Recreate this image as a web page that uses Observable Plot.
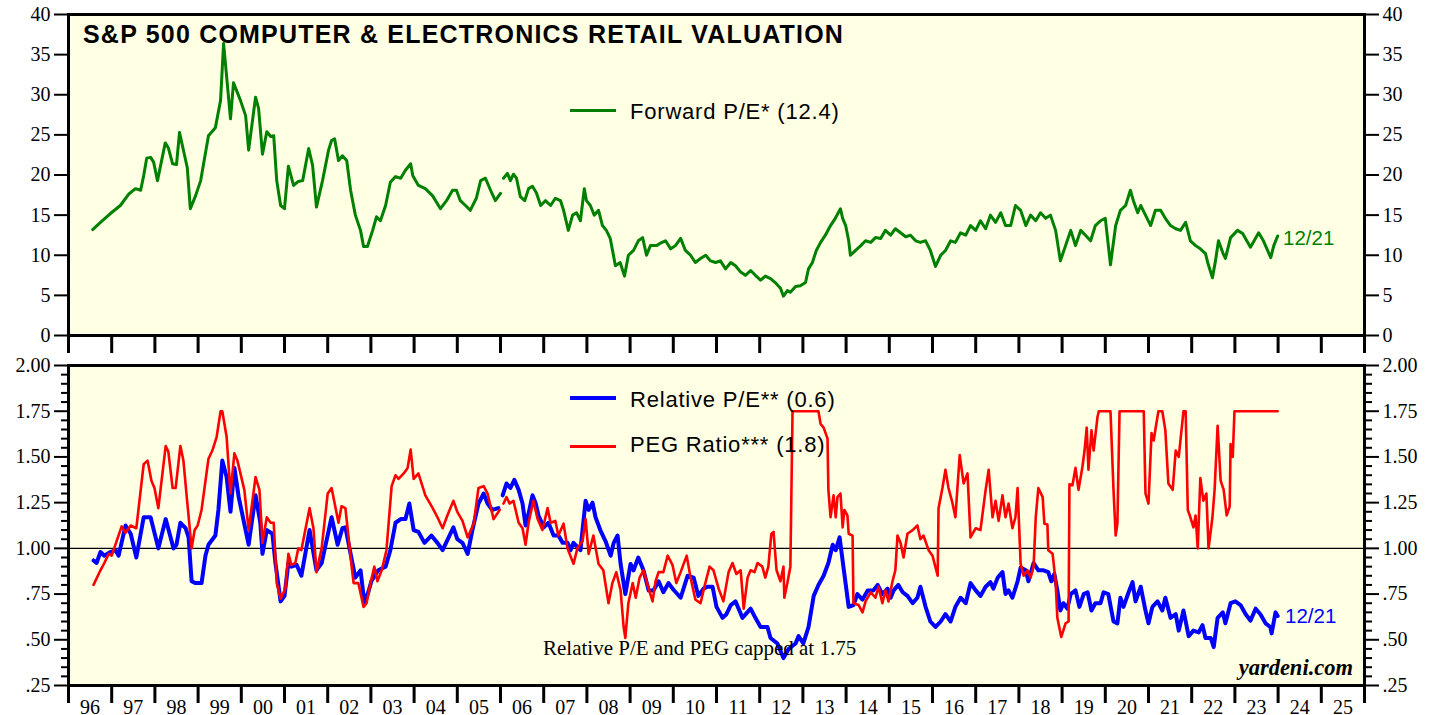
<!DOCTYPE html>
<html><head><meta charset="utf-8">
<script src="https://cdn.jsdelivr.net/npm/d3@7"></script>
<script src="https://cdn.jsdelivr.net/npm/@observablehq/plot@0.6"></script>
<style>
html,body{margin:0;padding:0;background:#fff}
body{width:1439px;height:715px;overflow:hidden;position:relative;font-family:"Liberation Sans",Arial,sans-serif}
#top,#bot{position:absolute;left:0}
#top{top:0}
#bot{top:355px}
.lbl{position:absolute;white-space:nowrap;line-height:1}
.sw{position:absolute}
</style></head><body>
<div id="top"></div><div id="bot"></div>
<script>
// ---------- data ----------
const yearTicks = d3.range(1996, 2027);
const yearLabels = ["96","97","98","99","00","01","02","03","04","05","06","07","08","09","10","11","12","13","14","15","16","17","18","19","20","21","22","23","24","25"];
const peTicks = [0,5,10,15,20,25,30,35,40];
const ratioTicks = [0.25,0.5,0.75,1,1.25,1.5,1.75,2];
const ratioLabels = [".25",".50",".75","1.00","1.25","1.50","1.75","2.00"];

// Forward P/E (null = break between old and new series)
const fwdYear = [1996.56,1996.74,1996.97,1997.20,1997.39,1997.55,1997.67,1997.74,1997.81,1997.90,1997.97,1998.06,1998.24,1998.31,1998.41,1998.50,1998.57,1998.75,1998.82,1998.94,1999.06,1999.24,1999.40,1999.52,1999.59,1999.75,1999.82,1999.98,2000.10,2000.17,2000.33,2000.40,2000.49,2000.59,2000.68,2000.75,2000.82,2000.91,2001.00,2001.09,2001.21,2001.32,2001.42,2001.56,2001.65,2001.74,2001.88,2002.02,2002.09,2002.16,2002.25,2002.34,2002.44,2002.53,2002.64,2002.76,2002.83,2002.92,2003.04,2003.13,2003.22,2003.34,2003.45,2003.57,2003.69,2003.80,2003.92,2003.97,2004.10,2004.26,2004.43,2004.61,2004.75,2004.89,2004.98,2005.07,2005.19,2005.30,2005.44,2005.54,2005.65,2005.77,2005.88,2006.00,
 null,
 2006.07,2006.16,2006.23,2006.30,2006.37,2006.46,2006.56,2006.65,2006.74,2006.83,2006.93,2007.04,2007.16,2007.27,2007.39,2007.46,2007.57,2007.67,2007.76,2007.85,2007.94,2007.99,2008.08,2008.17,2008.27,2008.36,2008.45,2008.54,2008.66,2008.77,2008.87,2008.96,2009.08,2009.19,2009.29,2009.38,2009.47,2009.61,2009.70,2009.82,2009.94,2010.05,2010.17,2010.28,2010.40,2010.51,2010.63,2010.75,2010.86,2010.98,2011.09,2011.21,2011.33,2011.44,2011.56,2011.67,2011.79,2011.90,2012.02,2012.13,2012.25,2012.36,2012.48,2012.55,2012.64,2012.71,2012.83,2012.94,2013.06,2013.13,2013.22,2013.31,2013.41,2013.52,2013.64,2013.75,2013.87,2013.92,2013.99,2014.06,2014.10,2014.22,2014.34,2014.45,2014.57,2014.68,2014.80,2014.91,2015.03,2015.14,2015.26,2015.38,2015.49,2015.61,2015.72,2015.84,2015.95,2016.07,2016.19,2016.30,2016.42,2016.53,2016.65,2016.77,2016.88,2017.00,2017.11,2017.23,2017.34,2017.46,2017.58,2017.69,2017.81,2017.92,2018.04,2018.16,2018.27,2018.39,2018.50,2018.62,2018.73,2018.85,2018.96,2019.08,2019.20,2019.31,2019.43,2019.54,2019.66,2019.77,2019.89,2020.00,2020.12,2020.24,2020.35,2020.47,2020.58,2020.65,2020.75,2020.82,2020.93,2021.05,2021.16,2021.28,2021.39,2021.51,2021.63,2021.74,2021.86,2021.97,2022.09,2022.20,2022.32,2022.37,2022.48,2022.55,2022.62,2022.72,2022.78,2022.90,2023.06,2023.18,2023.36,2023.55,2023.66,2023.83,2023.90,2023.99];
const fwdPE = [13.2,14.1,15.2,16.2,17.6,18.3,18.1,19.9,22.1,22.2,21.6,19.3,24.0,23.4,21.4,21.3,25.3,20.9,15.8,17.4,19.3,24.9,25.9,29.3,36.4,27.0,31.5,29.3,27.4,23.1,29.7,28.3,22.6,25.4,24.8,24.9,19.3,16.2,15.8,21.1,18.7,19.2,19.3,23.3,21.2,16.0,19.3,23.1,24.3,24.5,21.8,22.4,21.8,18.1,15.0,13.1,11.1,11.1,13.1,14.8,14.3,16.2,19.1,19.8,19.6,20.6,21.4,19.9,18.7,18.3,17.4,15.8,16.8,18.1,18.1,16.8,16.2,15.6,17.1,19.3,19.6,18.1,16.8,17.7,
 null,
 19.6,20.2,19.3,20.1,19.6,17.3,16.8,18.3,18.6,17.8,16.2,16.8,16.2,17.1,16.8,15.6,13.1,15.0,15.3,14.3,18.3,16.8,16.2,15.0,15.6,13.7,13.1,12.1,8.7,9.1,7.4,10.0,10.6,11.8,12.2,10.0,11.2,11.2,11.5,11.8,10.8,11.2,12.1,10.6,10.0,9.1,9.6,10.0,9.3,9.1,9.3,8.3,9.1,8.7,7.9,7.5,8.1,7.5,6.9,7.4,7.1,6.6,5.9,4.9,5.6,5.4,6.1,6.2,6.6,8.3,9.1,10.6,11.6,12.5,13.7,14.6,15.8,14.6,13.7,11.8,10.0,10.6,11.2,11.8,11.6,12.2,12.1,13.1,12.5,13.3,12.8,12.3,12.5,11.8,11.6,11.8,10.6,8.6,10.0,10.6,11.8,11.6,12.8,12.5,13.7,13.1,14.3,13.3,15.0,14.1,15.3,13.7,13.7,16.2,15.6,13.7,15.0,14.3,15.3,14.6,15.0,13.1,9.3,11.2,13.1,11.2,13.1,12.5,11.8,13.7,14.3,14.6,8.8,13.7,15.6,16.2,18.1,16.8,15.3,16.2,15.0,13.7,15.6,15.6,14.6,13.7,13.3,13.1,14.1,11.8,11.2,10.8,10.2,9.1,7.2,9.3,11.8,10.3,9.6,12.2,13.1,12.7,11.0,12.8,11.8,9.7,11.2,12.4];

// Relative P/E
const relYear = [1996.58,1996.65,1996.74,1996.83,1996.97,1997.09,1997.16,1997.32,1997.44,1997.57,1997.74,1997.90,1998.08,1998.25,1998.43,1998.50,1998.59,1998.71,1998.78,1998.85,1998.94,1999.08,1999.17,1999.24,1999.40,1999.47,1999.56,1999.66,1999.75,1999.84,1999.94,2000.17,2000.33,2000.44,2000.49,2000.59,2000.72,2000.79,2000.91,2001.00,2001.09,2001.16,2001.28,2001.39,2001.58,2001.74,2001.86,2002.09,2002.23,2002.34,2002.41,2002.53,2002.64,2002.76,2002.85,2002.94,2003.01,2003.17,2003.34,2003.45,2003.57,2003.69,2003.80,2003.89,2003.99,2004.10,2004.24,2004.40,2004.54,2004.66,2004.80,2004.91,2005.00,2005.12,2005.24,2005.35,2005.49,2005.61,2005.70,2005.81,2005.95,
 null,
 2006.05,2006.14,2006.23,2006.32,2006.42,2006.51,2006.58,2006.65,2006.74,2006.81,2006.88,2007.00,2007.11,2007.23,2007.34,2007.44,2007.55,2007.62,2007.69,2007.85,2007.97,2008.04,2008.13,2008.20,2008.31,2008.43,2008.55,2008.62,2008.71,2008.78,2008.89,2009.01,2009.08,2009.19,2009.31,2009.43,2009.54,2009.66,2009.77,2009.89,2010.00,2010.17,2010.33,2010.47,2010.58,2010.70,2010.79,2010.91,2011.00,2011.14,2011.23,2011.33,2011.44,2011.60,2011.79,2011.90,2012.02,2012.18,2012.25,2012.41,2012.55,2012.67,2012.83,2012.90,2013.01,2013.13,2013.25,2013.36,2013.48,2013.59,2013.69,2013.76,2013.85,2013.94,2014.06,2014.17,2014.26,2014.38,2014.50,2014.63,2014.73,2014.84,2014.96,2015.03,2015.10,2015.21,2015.31,2015.42,2015.54,2015.65,2015.72,2015.84,2015.95,2016.07,2016.19,2016.30,2016.42,2016.53,2016.65,2016.77,2016.88,2017.00,2017.11,2017.23,2017.34,2017.41,2017.51,2017.62,2017.69,2017.76,2017.85,2017.97,2018.04,2018.16,2018.22,2018.34,2018.45,2018.57,2018.68,2018.75,2018.82,2018.89,2018.96,2019.03,2019.12,2019.20,2019.31,2019.40,2019.50,2019.59,2019.68,2019.77,2019.89,2019.96,2020.07,2020.19,2020.28,2020.35,2020.42,2020.54,2020.63,2020.70,2020.82,2020.93,2021.00,2021.09,2021.21,2021.32,2021.39,2021.51,2021.63,2021.70,2021.81,2021.93,2022.04,2022.16,2022.25,2022.32,2022.44,2022.51,2022.60,2022.72,2022.78,2022.90,2023.01,2023.13,2023.25,2023.36,2023.48,2023.59,2023.71,2023.82,2023.85,2023.94,2023.99];
const relPE = [0.934,0.92,0.98,0.96,0.98,0.99,0.96,1.125,1.08,0.95,1.17,1.17,1.0,1.16,1.0,1.02,1.14,1.11,1.06,0.82,0.81,0.81,0.96,1.02,1.07,1.21,1.48,1.39,1.2,1.44,1.28,1.02,1.29,1.14,0.97,1.1,1.08,0.92,0.71,0.74,0.92,0.90,0.91,0.85,1.1,0.88,0.92,1.17,1.02,1.11,1.115,0.97,0.84,0.88,0.70,0.76,0.82,0.88,0.90,0.99,1.14,1.16,1.16,1.245,1.10,1.09,1.03,1.07,1.03,0.99,1.06,1.115,1.05,1.03,0.97,1.10,1.245,1.30,1.245,1.21,1.22,
 null,
 1.29,1.355,1.33,1.375,1.32,1.245,1.125,1.19,1.29,1.25,1.18,1.115,1.14,1.07,1.07,1.03,1.03,0.99,1.03,0.99,1.26,1.21,1.25,1.17,1.10,1.04,0.96,1.03,1.07,0.915,0.75,0.915,0.88,0.95,0.88,0.77,0.77,0.82,0.76,0.81,0.775,0.73,0.85,0.84,0.74,0.78,0.79,0.79,0.68,0.62,0.64,0.69,0.71,0.62,0.67,0.62,0.57,0.57,0.51,0.48,0.40,0.45,0.48,0.52,0.48,0.57,0.74,0.80,0.85,0.92,1.02,0.99,1.06,0.895,0.68,0.69,0.75,0.72,0.77,0.77,0.80,0.75,0.78,0.73,0.77,0.80,0.76,0.74,0.70,0.73,0.79,0.68,0.60,0.57,0.60,0.64,0.60,0.68,0.73,0.70,0.81,0.77,0.74,0.79,0.815,0.78,0.84,0.87,0.75,0.77,0.73,0.82,0.895,0.88,0.82,0.92,0.88,0.88,0.87,0.82,0.86,0.77,0.66,0.70,0.67,0.75,0.77,0.68,0.75,0.76,0.66,0.70,0.70,0.76,0.75,0.60,0.59,0.73,0.68,0.76,0.815,0.71,0.79,0.66,0.59,0.68,0.71,0.66,0.73,0.62,0.64,0.55,0.66,0.52,0.55,0.54,0.58,0.51,0.51,0.46,0.62,0.65,0.59,0.70,0.71,0.69,0.64,0.605,0.67,0.64,0.59,0.57,0.535,0.65,0.63];

// PEG ratio (capped at 1.75)
const pegYear = [1996.58,1996.74,1996.83,1996.93,1997.00,1997.23,1997.32,1997.44,1997.57,1997.74,1997.83,1997.92,1997.99,1998.08,1998.25,1998.31,1998.41,1998.48,1998.59,1998.66,1998.73,1998.85,1998.92,1998.99,1999.08,1999.24,1999.33,1999.43,1999.52,1999.56,1999.66,1999.75,1999.84,1999.91,2000.07,2000.17,2000.33,2000.42,2000.49,2000.59,2000.68,2000.75,2000.82,2000.91,2001.02,2001.09,2001.16,2001.25,2001.32,2001.39,2001.58,2001.67,2001.74,2001.86,2002.00,2002.09,2002.25,2002.32,2002.41,2002.55,2002.60,2002.71,2002.83,2002.90,2002.99,2003.08,2003.15,2003.25,2003.36,2003.48,2003.57,2003.64,2003.76,2003.85,2003.92,2003.99,2004.10,2004.26,2004.43,2004.54,2004.66,2004.77,2004.91,2005.00,2005.12,2005.24,2005.38,2005.49,2005.61,2005.70,2005.84,2005.98,
 null,
 2006.07,2006.14,2006.21,2006.30,2006.42,2006.51,2006.58,2006.65,2006.76,2006.86,2006.97,2007.09,2007.16,2007.27,2007.34,2007.46,2007.55,2007.69,2007.78,2007.90,2007.97,2008.04,2008.15,2008.27,2008.38,2008.50,2008.59,2008.68,2008.78,2008.85,2008.89,2008.96,2009.06,2009.13,2009.22,2009.31,2009.43,2009.52,2009.59,2009.66,2009.77,2009.87,2009.98,2010.07,2010.17,2010.31,2010.40,2010.51,2010.63,2010.72,2010.84,2010.93,2011.05,2011.16,2011.28,2011.37,2011.46,2011.56,2011.63,2011.72,2011.79,2011.88,2011.95,2012.06,2012.13,2012.20,2012.27,2012.32,2012.39,2012.48,2012.55,2012.57,2012.64,2012.71,2012.76,2013.36,2013.41,2013.48,2013.57,2013.59,2013.64,2013.71,2013.76,2013.80,2013.87,2013.92,2013.96,2014.03,2014.06,2014.15,2014.17,2014.29,2014.38,2014.45,2014.57,2014.68,2014.75,2014.84,2014.91,2014.98,2015.07,2015.14,2015.19,2015.26,2015.33,2015.42,2015.54,2015.65,2015.72,2015.79,2015.91,2016.00,2016.12,2016.14,2016.23,2016.30,2016.37,2016.46,2016.53,2016.63,2016.72,2016.81,2016.88,2017.00,2017.11,2017.23,2017.30,2017.39,2017.46,2017.53,2017.62,2017.69,2017.76,2017.85,2017.92,2017.97,2018.04,2018.11,2018.20,2018.27,2018.34,2018.39,2018.45,2018.55,2018.59,2018.66,2018.68,2018.78,2018.85,2018.89,2018.98,2019.08,2019.15,2019.17,2019.24,2019.31,2019.38,2019.47,2019.52,2019.57,2019.61,2019.68,2019.73,2019.82,2019.85,2020.12,2020.19,2020.24,2020.28,2020.33,2020.89,2020.93,2021.00,2021.07,2021.12,2021.18,2021.23,2021.32,2021.39,2021.46,2021.56,2021.63,2021.70,2021.81,2021.86,2021.91,2021.97,2022.04,2022.09,2022.14,2022.20,2022.27,2022.34,2022.39,2022.48,2022.53,2022.60,2022.67,2022.74,2022.81,2022.88,2022.90,2022.95,2022.99,2023.99];
const pegRatio = [0.80,0.88,0.92,0.97,0.96,1.12,1.085,1.125,1.11,1.46,1.48,1.37,1.33,1.22,1.56,1.53,1.33,1.33,1.56,1.48,1.30,1.0,1.10,1.125,1.21,1.49,1.535,1.61,1.75,1.75,1.61,1.30,1.52,1.48,1.32,1.10,1.39,1.32,1.03,1.17,1.14,1.14,0.81,0.725,0.78,0.97,0.91,0.92,1.0,0.99,1.22,1.11,0.87,1.0,1.30,1.33,1.14,1.23,1.22,0.91,0.81,0.81,0.68,0.70,0.81,0.90,0.82,0.88,0.99,1.34,1.40,1.38,1.41,1.44,1.54,1.38,1.41,1.29,1.22,1.17,1.11,1.18,1.26,1.20,1.15,1.06,1.135,1.33,1.34,1.30,1.16,1.21,
 null,
 1.245,1.28,1.245,1.26,1.14,1.11,1.02,1.14,1.26,1.16,1.10,1.22,1.14,1.15,1.07,1.135,1.0,0.915,1.0,1.04,1.16,0.97,1.07,0.915,0.88,0.70,0.81,0.87,0.77,0.57,0.51,0.70,0.81,0.73,0.84,0.88,0.78,0.71,0.82,0.87,0.87,0.96,0.91,0.81,0.87,0.96,0.84,0.72,0.70,0.79,0.90,0.88,0.78,0.71,0.87,0.92,0.86,0.88,0.67,0.84,0.88,0.87,0.92,0.90,0.84,0.90,1.08,1.09,0.88,0.82,0.90,0.73,0.81,0.90,1.75,1.75,1.68,1.66,1.60,1.32,1.17,1.29,1.17,1.28,1.30,1.115,1.21,1.18,1.08,1.07,0.70,0.69,0.65,0.71,0.76,0.73,0.79,0.70,0.77,0.71,0.815,0.88,1.07,1.03,0.95,1.08,1.10,1.125,1.05,1.07,0.99,0.96,0.85,1.22,1.33,1.43,1.33,1.25,1.17,1.51,1.355,1.41,1.06,1.11,1.10,1.32,1.43,1.17,1.26,1.15,1.29,1.17,1.245,1.11,1.17,1.33,0.915,0.85,0.88,0.84,0.90,1.17,1.33,1.28,1.135,1.13,0.99,0.97,0.82,0.62,0.515,0.59,0.60,1.35,1.345,1.44,1.32,1.445,1.535,1.66,1.43,1.645,1.535,1.72,1.75,1.75,1.32,1.07,1.135,1.75,1.75,1.30,1.245,1.63,1.59,1.68,1.75,1.75,1.645,1.355,1.32,1.535,1.50,1.75,1.75,1.21,1.17,1.115,1.18,1.0,1.385,1.26,1.30,1.0,1.17,1.32,1.67,1.37,1.32,1.18,1.23,1.57,1.50,1.75,1.75];

// ---------- build ----------
const BG = "#FFFFE4";
const GREEN = "#008000", BLUE = "#0000FF", RED = "#FF0000";
const rows = (xs, ys) => xs.map((x, i) => ({x, y: ys[i]}));
const fwd = rows(fwdYear, fwdPE), rel = rows(relYear, relPE), peg = rows(pegYear, pegRatio);
const midYears = yearTicks.slice(0, -1).map(y => y + 0.5);
const minorTicks = d3.range(25, 201, 5).map(v => v / 100).filter(v => !ratioTicks.some(t => Math.abs(t - v) < 1e-9));
const style = {fontFamily: "'Liberation Serif', 'Times New Roman', serif", fontSize: "20px", color: "black", background: "transparent", overflow: "visible"};
const blank = () => "";

const topPlot = Plot.plot({
  width: 1439, height: 355,
  marginLeft: 68, marginRight: 75, marginTop: 14, marginBottom: 20,
  x: {domain: [1996, 2026]},
  y: {domain: [0, 40]},
  style,
  marks: [
    Plot.frame({fill: BG, stroke: null}),
    Plot.axisX({anchor: "bottom", label: null, ticks: yearTicks, tickSize: 18, strokeWidth: 3, tickFormat: blank}),
    Plot.axisY({anchor: "left", label: null, ticks: peTicks, tickSize: 14, tickPadding: 4, strokeWidth: 2, tickFormat: d => String(d)}),
    Plot.axisY({anchor: "right", label: null, ticks: peTicks, tickSize: 14, tickPadding: 4, strokeWidth: 2, tickFormat: d => String(d)}),
    Plot.line(fwd, {x: "x", y: "y", stroke: GREEN, strokeWidth: 3, strokeLinejoin: "round"}),
    Plot.frame({stroke: "black", strokeWidth: 3})
  ]
});
document.getElementById("top").append(topPlot);

const botPlot = Plot.plot({
  width: 1439, height: 360,
  marginLeft: 68, marginRight: 75, marginTop: 10, marginBottom: 30,
  x: {domain: [1996, 2026]},
  y: {domain: [0.25, 2]},
  style,
  marks: [
    Plot.frame({fill: BG, stroke: null}),
    Plot.ruleY([1], {stroke: "black", strokeWidth: 1.2}),
    Plot.axisX({anchor: "bottom", label: null, ticks: yearTicks, tickSize: 18, strokeWidth: 3, tickFormat: blank}),
    Plot.axisX({anchor: "bottom", label: null, ticks: midYears, tickSize: 0, tickPadding: 14, tickFormat: (d, i) => yearLabels[i]}),
    Plot.axisY({anchor: "left", label: null, ticks: ratioTicks, tickSize: 14, tickPadding: 4, strokeWidth: 2, tickFormat: (d, i) => ratioLabels[i]}),
    Plot.axisY({anchor: "right", label: null, ticks: ratioTicks, tickSize: 14, tickPadding: 4, strokeWidth: 2, tickFormat: (d, i) => ratioLabels[i]}),
    Plot.axisY({anchor: "left", label: null, ticks: minorTicks, tickSize: 7, strokeWidth: 2, tickFormat: blank}),
    Plot.axisY({anchor: "right", label: null, ticks: minorTicks, tickSize: 7, strokeWidth: 2, tickFormat: blank}),
    Plot.line(rel, {x: "x", y: "y", stroke: BLUE, strokeWidth: 4, strokeLinejoin: "round"}),
    Plot.line(peg, {x: "x", y: "y", stroke: RED, strokeWidth: 2.6, strokeLinejoin: "round"}),
    Plot.frame({stroke: "black", strokeWidth: 3})
  ]
});
document.getElementById("bot").append(botPlot);

// ---------- text overlays ----------
function label(text, css) {
  const d = document.createElement("div");
  d.className = "lbl"; d.textContent = text;
  Object.assign(d.style, css);
  document.body.append(d);
}
function swatch(color, css) {
  const d = document.createElement("div");
  d.className = "sw";
  Object.assign(d.style, {background: color}, css);
  document.body.append(d);
}
label("S&P 500 COMPUTER & ELECTRONICS RETAIL VALUATION", {left: "83px", top: "21.5px", fontSize: "25px", fontWeight: "bold", letterSpacing: "1.2px"});
swatch(GREEN, {left: "570px", top: "108.5px", width: "46px", height: "3px"});
label("Forward P/E* (12.4)", {left: "630px", top: "100.5px", fontSize: "22px", letterSpacing: "0.8px"});
label("12/21", {left: "1283px", top: "228px", fontSize: "20.5px", color: GREEN});
swatch(BLUE, {left: "570px", top: "396px", width: "46px", height: "4px"});
label("Relative P/E** (0.6)", {left: "630px", top: "388.5px", fontSize: "22px", letterSpacing: "0.8px"});
swatch(RED, {left: "570px", top: "444.5px", width: "46px", height: "3px"});
label("PEG Ratio*** (1.8)", {left: "630px", top: "434px", fontSize: "22px", letterSpacing: "0.8px"});
label("12/21", {left: "1285px", top: "606px", fontSize: "20.5px", color: BLUE});
label("Relative P/E and PEG capped at 1.75", {left: "543px", top: "637.5px", fontSize: "21px", fontFamily: "'Liberation Serif', serif"});
label("yardeni.com", {right: "86px", top: "657px", fontSize: "22.5px", fontFamily: "'Liberation Serif', serif", fontWeight: "bold", fontStyle: "italic"});
</script>
</body></html>
